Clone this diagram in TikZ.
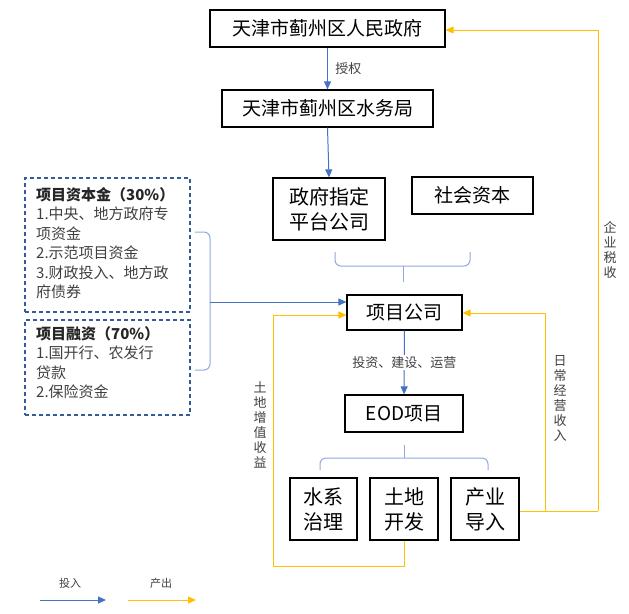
\documentclass[tikz,border=0pt]{standalone}
\usepackage{fontspec}
\setmainfont{Noto Sans CJK SC}
\usetikzlibrary{arrows.meta}
\definecolor{bl}{HTML}{4472C4}
\definecolor{lb}{HTML}{8FAADC}
\definecolor{yl}{HTML}{FFC000}
\begin{document}
\begin{tikzpicture}[x=1pt,y=-1pt,
  bx/.style={draw,line width=1.2pt,inner sep=0pt,font=\fontsize{19}{22}\selectfont},
  dbox/.style={draw=bl!80!black,line width=1.1pt,dash pattern=on 4pt off 3pt,inner sep=0pt},
  lbl/.style={font=\fontsize{13}{15}\selectfont,text=black!75},
  vl/.style={font=\fontsize{13}{15}\selectfont,text=black!75,align=center},
  ba/.style={draw=bl,line width=1pt,-{Triangle[length=8pt,width=7pt]}},
  ya/.style={draw=yl,line width=1pt,-{Triangle[length=8pt,width=7pt]}},
  br/.style={draw=lb,line width=1pt,rounded corners=6pt}]
\useasboundingbox (0,0) rectangle (629,613);
\node[bx,minimum width=235,minimum height=37] (gov) at (327.5,28.5) {天津市蓟州区人民政府};
\node[bx,minimum width=211,minimum height=37] (wat) at (327.5,108.5) {天津市蓟州区水务局};
\node[bx,minimum width=112,minimum height=62,align=center,font=\fontsize{20}{25}\selectfont] (plat) at (329,209) {政府指定\\平台公司};
\node[bx,minimum width=121,minimum height=37] (soc) at (472.5,195.5) {社会资本};
\node[bx,minimum width=115,minimum height=35] (pc) at (404.5,312.5) {项目公司};
\node[bx,minimum width=118,minimum height=37] (eod) at (404,413.5) {EOD项目};
\node[bx,minimum width=67,minimum height=62,align=center,font=\fontsize{20}{25}\selectfont] (sx) at (323.5,509) {水系\\治理};
\node[bx,minimum width=68,minimum height=62,align=center,font=\fontsize{20}{25}\selectfont] (td) at (404,509) {土地\\开发};
\node[bx,minimum width=68,minimum height=62,align=center,font=\fontsize{20}{25}\selectfont] (cy) at (485,509) {产业\\导入};
\node[dbox,minimum width=165,minimum height=134] (d1) at (107.5,245) {};
\node[dbox,minimum width=165,minimum height=95] (d2) at (107.5,367.5) {};
\node[anchor=north west,align=left,inner sep=0pt,font=\fontsize{15}{19.5}\selectfont,text=black!75] (t1) at (36,187)
 {{\bfseries\color{black!85}项目资本金（30\%）}\\1.中央、地方政府专\\项资金\\2.示范项目资金\\3.财政投入、地方政\\府债券};
\node[anchor=north west,align=left,inner sep=0pt,font=\fontsize{15}{19.5}\selectfont,text=black!75] (t2) at (36,326)
 {{\bfseries\color{black!85}项目融资（70\%）}\\1.国开行、农发行\\贷款\\2.保险资金};
% top arrows
\draw[ba] (gov) -- node[right,lbl,xshift=4pt] (sq) {授权} (wat);
\draw[ba] (wat.south) -- (plat.north);
% brace under plat/soc
\coordinate (bt) at (403,282);
\draw[br] (335,252) -- (335,266) -- (403,266) -- (470,266) -- (470,252);
\draw[draw=lb,line width=1pt] (403,266) -- (bt);
% left brace
\draw[br] (195,232) -- (210,232) -- (210,370) -- (195,370);
\draw[ba] (210,302) -- (pc.west |- 0,302);
% pc to eod
\draw[ba] (pc) -- node[lbl,fill=white,inner sep=1pt] (tj) {投资、建设、运营} (eod);
% brace under eod
\draw[br] (320,470) -- (320,458) -- (404,458) -- (488,458) -- (488,470);
\draw[draw=lb,line width=1pt] (404,445) -- (404,458);
% yellow
\draw[ya] (td.south) -- (404,566) -- (273,566) -- (273,315) -- (pc.west |- 0,315);
\node[vl] (l1) at (260,425) {土\\地\\增\\值\\收\\益};
\draw[draw=yl,line width=1pt] (cy.east |- 0,511) -- (598,511);
\draw[ya] (545,511) -- (545,313) -- (pc.east |- 0,313);
\draw[ya] (598,511) -- (598,30) -- (gov.east |- 0,30);
\node[vl] (l2) at (560,398) {日\\常\\经\\营\\收\\入};
\node[vl] (l3) at (610,250) {企\\业\\税\\收};
% legend
\coordinate (a1) at (40,600); \coordinate (a2) at (106,600);
\coordinate (b1) at (128,600); \coordinate (b2) at (196,600);
\draw[ba] (a1) -- (a2);
\draw[ya] (b1) -- (b2);
\node[lbl,font=\fontsize{11}{12}\selectfont] (lg1) at (70,583) {投入};
\node[lbl,font=\fontsize{11}{12}\selectfont] (lg2) at (161,583) {产出};
\end{tikzpicture}
\end{document}
